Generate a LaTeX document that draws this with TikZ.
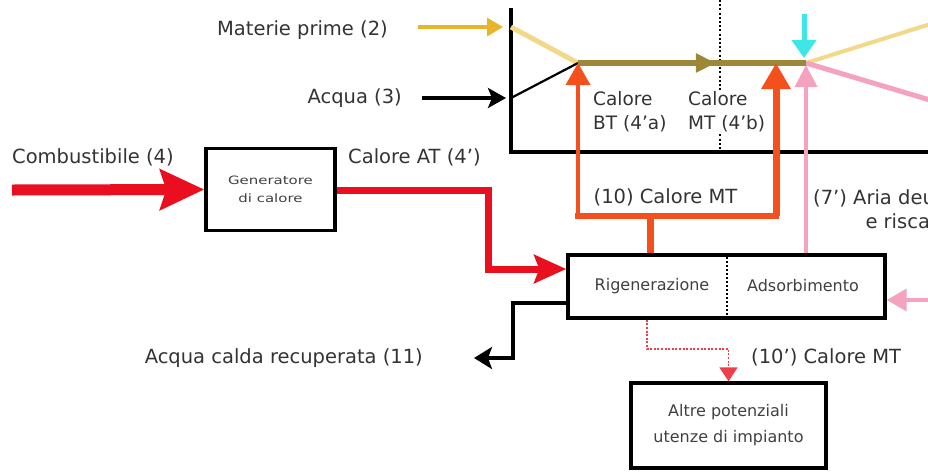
\documentclass[tikz,border=0pt]{standalone}
\usepackage{fontspec}
\setmainfont{DejaVu Sans}
\usetikzlibrary{arrows.meta,decorations.markings}
\definecolor{gold}{HTML}{E8B42A}
\definecolor{lightgold}{HTML}{F2D98A}
\definecolor{oliv}{HTML}{9C8838}
\definecolor{cyanarr}{HTML}{3EE6E6}
\definecolor{orng}{HTML}{F4501E}
\definecolor{pinkarr}{HTML}{F4A2BE}
\definecolor{redarr}{HTML}{EA0F1E}
\begin{document}
\begin{tikzpicture}[x=1pt,y=-1pt,
  lbl/.style={font=\fontsize{19.5}{24}\selectfont, inner sep=0pt, text=black!80},
  boxlbl/.style={font=\fontsize{16}{26}\selectfont, inner sep=0pt, text=black!75},
  procbox/.style={draw=black, line width=3.4pt, inner sep=0pt},
]
\useasboundingbox (0,0) rectangle (928,472);
\clip (0,0) rectangle (928,472);

% ---------- coordinates ----------
\coordinate (mpin) at (511,27);
\coordinate (acin) at (511,98);
\coordinate (j1) at (578,63);
\coordinate (j2) at (806,63);
\coordinate (out1) at (940,21);
\coordinate (out2) at (940,103);
\coordinate (cytop) at (804,14);
\coordinate (cytip) at (804,58);
\coordinate (loopL) at (578,216);
\coordinate (loopR) at (776,216);
\coordinate (mttip) at (776,63);
\coordinate (x650) at (650,0);
\coordinate (x805) at (806,0);
\coordinate (x727) at (727,0);
\coordinate (pktip) at (806,65);
\coordinate (x647) at (647,0);
\coordinate (cin) at (12,190);
\coordinate (atc) at (488,190);
\coordinate (aclc) at (513,303);
\coordinate (acltip) at (474,358);
\coordinate (dotc) at (647,349);
\coordinate (pkin) at (950,300);

% ---------- process box (top, cropped) ----------
\draw[line width=3.4pt] (511,8) -- (511,152) -- (940,152);
\draw[line width=2pt, dash pattern=on 2pt off 2.2pt] (720,0) -- (720,150);

% ---------- boxes ----------
\node[procbox, minimum width=129pt, minimum height=82pt, align=center,
      font=\fontsize{11.5}{18}\selectfont, text=black!75] (gen) at (270.5,189.5)
      {\scalebox{1.3}[1]{Generatore}\\\scalebox{1.3}[1]{di calore}};
\node[procbox, minimum width=317pt, minimum height=63pt] (reg) at (726.5,286.5) {};
\draw[line width=2pt, dash pattern=on 2pt off 2pt] (reg.north -| x727) -- (reg.south -| x727);
\node[boxlbl] (rigtxt) at (652,286) {Rigenerazione};
\node[boxlbl] (adstxt) at (803,286) {Adsorbimento};
\node[procbox, minimum width=195pt, minimum height=85pt, align=center, boxlbl] (altre) at (728.5,425.5)
      {Altre potenziali\\utenze di impianto};

% ---------- labels ----------
\node[lbl, anchor=east] (mp) at (388,30) {Materie prime (2)};
\node[lbl, anchor=east] (ac) at (402,98) {Acqua (3)};
\node[lbl, anchor=west] (comb) at (12,157) {Combustibile (4)};
\node[lbl, anchor=west] (cat) at (348,157) {Calore AT (4')};
\node[lbl, anchor=west, align=left, font=\fontsize{18.5}{24}\selectfont] (bt) at (593,112) {Calore\\BT (4'a)};
\node[lbl, anchor=center] (c10) at (665.5,197) {(10) Calore MT};
\node[lbl, anchor=west, align=center] (aria) at (813,209.5) {(7') Aria deumidificata\\e riscaldata};
\node[lbl, anchor=east] (acl) at (423,358) {Acqua calda recuperata (11)};
\node[lbl, anchor=west] (c10p) at (751,357) {(10') Calore MT};

% ---------- inputs into process box ----------
\draw[gold, line width=3.4pt, shorten <=30pt, shorten >=8pt, -{Triangle[length=16pt,width=18pt]}] (mp.east |- mpin) -- (mpin);
\draw[black, line width=3.4pt, shorten <=20pt, shorten >=5pt, -{Stealth[length=18pt,width=20pt,inset=4pt]}] (ac.east |- acin) -- (acin);
\draw[lightgold, line width=5pt] (mpin) -- (j1);
\draw[black, line width=2.2pt] (acin) -- (j1);
\draw[lightgold, line width=4pt] (j2) -- (out1);
\draw[pinkarr, line width=5pt] (j2) -- (out2);
\draw[oliv, line width=6pt,
  postaction={decorate},
  decoration={markings, mark=at position 0.605 with {\arrow{Triangle[length=20pt,width=18pt]}}}] (j1) -- (j2);
\draw[cyanarr, line width=5pt, -{Triangle[length=18pt,width=24pt]}] (cytop) -- (cytip);

% ---------- MT label over dotted line ----------
\node[lbl, anchor=west, align=left, fill=white, font=\fontsize{18.5}{24}\selectfont] (mt) at (688,112) {Calore\\MT (4'b)};

% ---------- fuel and high temperature heat ----------
\draw[redarr, line width=11pt, -{Stealth[length=44pt,width=40pt,inset=6pt]}] (cin) -- (gen.west);
\draw[redarr, line width=7pt, -{Stealth[length=32pt,width=28pt,inset=5pt]}] (gen.east |- atc) -- (atc) |- ([yshift=17.5pt]reg.west);

% ---------- MT heat loop ----------
\draw[orng, line width=7pt] (reg.north -| x650) -- (x650 |- loopL);
\draw[orng, line width=6pt, line cap=rect] (loopL) -- (loopR);
\draw[orng, line width=3.6pt, -{Triangle[length=22pt,width=24pt]}] (loopL) -- (j1);
\draw[orng, line width=7pt, -{Triangle[length=26pt,width=28pt]}] (loopR) -- (mttip);

% ---------- air ----------
\draw[pinkarr, line width=3.6pt, -{Triangle[length=22pt,width=22pt]}] (reg.north -| x805) -- (pktip);
\draw[pinkarr, line width=3.6pt, -{Triangle[length=20pt,width=22pt]}] (pkin) -- (reg.east |- pkin);

% ---------- outputs ----------
\draw[black, line width=3.2pt, -{Stealth[length=18pt,width=22pt,inset=4pt]}] (reg.west |- aclc) -- (aclc) |- (acltip);
\draw[redarr!80, line width=1.8pt, dash pattern=on 2pt off 1.6pt, -{Triangle[length=14pt,width=18pt]}]
  (reg.south -| x647) -- (dotc) -| (altre.north);
\end{tikzpicture}
\end{document}
